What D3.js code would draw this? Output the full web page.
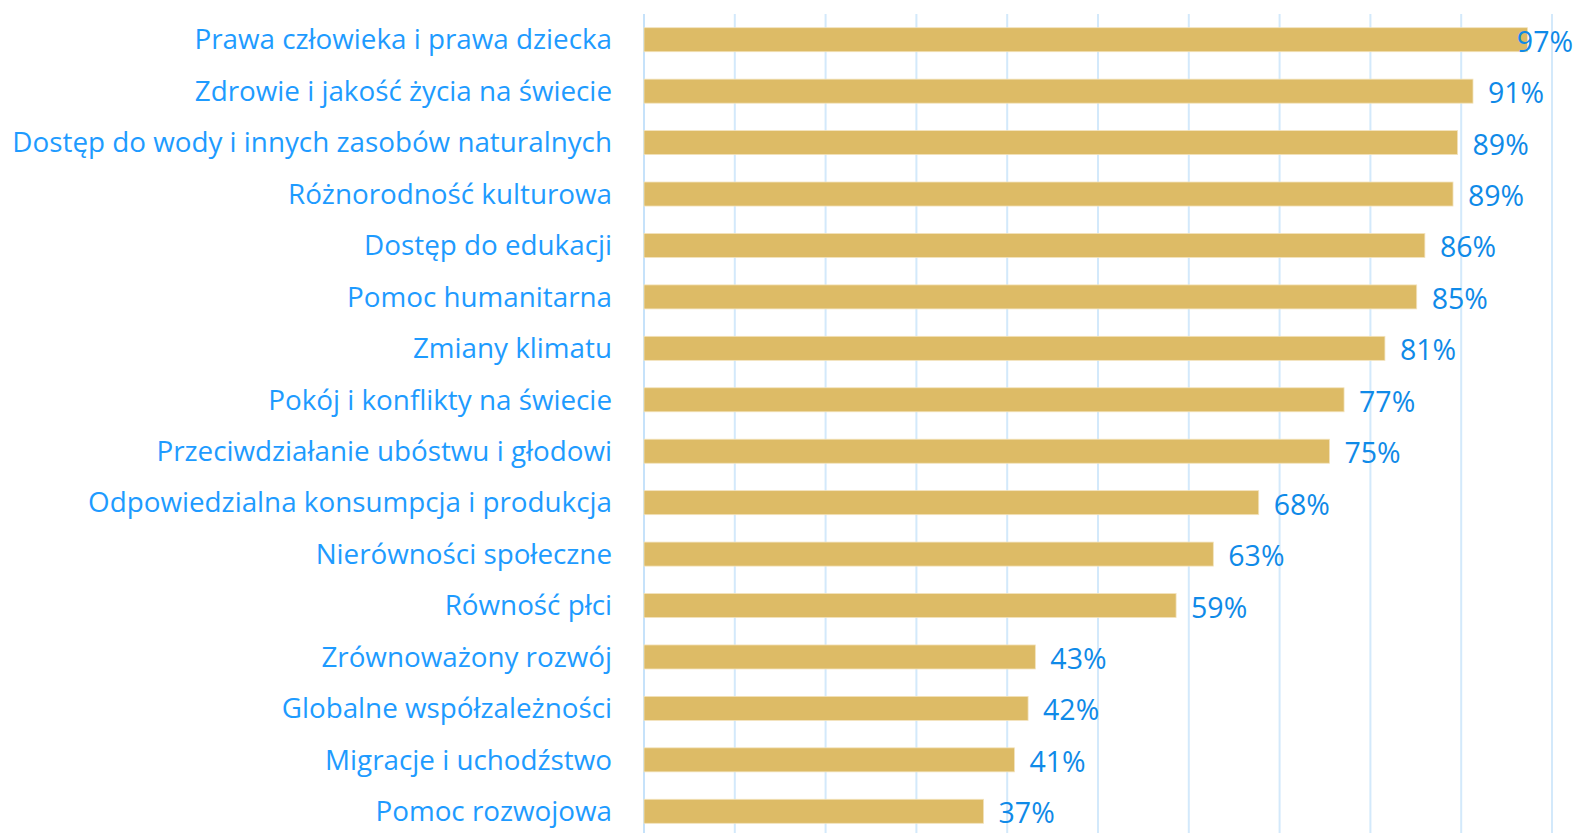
<!DOCTYPE html>
<html>
<head>
<meta charset="utf-8">
<script src="https://cdn.jsdelivr.net/npm/d3@7"></script>
<style>
  body { margin: 0; background: #fff; }
  svg { display: block; }
</style>
</head>
<body>
<div id="chart"></div>
<script>
// categories, top to bottom
const categories = [
  'Prawa człowieka i prawa dziecka',
  'Zdrowie i jakość życia na świecie',
  'Dostęp do wody i innych zasobów naturalnych',
  'Różnorodność kulturowa',
  'Dostęp do edukacji',
  'Pomoc humanitarna',
  'Zmiany klimatu',
  'Pokój i konflikty na świecie',
  'Przeciwdziałanie ubóstwu i głodowi',
  'Odpowiedzialna konsumpcja i produkcja',
  'Nierówności społeczne',
  'Równość płci',
  'Zrównoważony rozwój',
  'Globalne współzależności',
  'Migracje i uchodźstwo',
  'Pomoc rozwojowa'
];

// bar lengths (%)
const values = [97.3, 91.3, 89.6, 89.1, 86.0, 85.1, 81.6, 77.1, 75.5, 67.7, 62.7, 58.6, 43.1, 42.3, 40.8, 37.4];

// printed data labels
const valueLabels = ['97%', '91%', '89%', '89%', '86%', '85%', '81%', '77%', '75%', '68%', '63%', '59%', '43%', '42%', '41%', '37%'];

const gridTicks = [0, 10, 20, 30, 40, 50, 60, 70, 80, 90, 100];

const width = 1578, height = 833;
const data = categories.map((c, i) => ({ cat: c, value: values[i], label: valueLabels[i] }));

const svg = d3.select('#chart').append('svg')
    .attr('width', width)
    .attr('height', height);

const x = d3.scaleLinear().domain([0, 100]).range([644, 1552]);
const y = d3.scaleBand()
    .domain(categories)
    .range([14, 837])
    .paddingInner(0.533)
    .paddingOuter(0.2665);

// vertical gridlines
svg.append('g')
    .selectAll('line')
    .data(gridTicks)
    .enter()
    .append('line')
    .attr('x1', d => x(d))
    .attr('x2', d => x(d))
    .attr('y1', 14)
    .attr('y2', height)
    .attr('stroke', d => d === 0 ? '#c6e2fa' : '#d3e9fb')
    .attr('stroke-width', 2);

// bars
svg.append('g')
    .selectAll('rect')
    .data(data)
    .enter()
    .append('rect')
    .attr('x', x(0))
    .attr('y', d => y(d.cat))
    .attr('width', d => x(d.value) - x(0))
    .attr('height', y.bandwidth())
    .attr('fill', '#ddbb66')
    .attr('stroke', '#f3e3bd')
    .attr('stroke-width', 0.8);

// category labels
svg.append('g')
    .selectAll('text')
    .data(data)
    .enter()
    .append('text')
    .attr('x', 612)
    .attr('y', d => y(d.cat) + y.bandwidth() / 2)
    .attr('dy', '0.35em')
    .attr('text-anchor', 'end')
    .attr('font-family', '"Open Sans", sans-serif')
    .attr('font-size', 27.8)
    .attr('fill', '#1e9bff')
    .text(d => d.cat);

// value labels, pushed back inside the frame when they would overflow
const vl = svg.append('g')
    .selectAll('text')
    .data(data)
    .enter()
    .append('text')
    .attr('y', d => y(d.cat) + y.bandwidth() / 2 + 2)
    .attr('dy', '0.35em')
    .attr('font-family', '"Open Sans", sans-serif')
    .attr('font-size', 28.5)
    .attr('fill', '#0f8ae8')
    .text(d => d.label);

vl.each(function(d) {
    const w = this.getComputedTextLength();
    const xs = Math.min(x(d.value) + 15, width - 5 - w);
    d3.select(this).attr('x', xs);
});
</script>
</body>
</html>
